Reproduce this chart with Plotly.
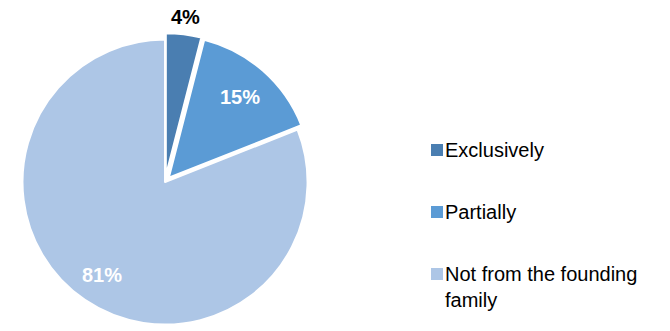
import math
import plotly.graph_objects as go

# Share of board members by relation to the founding family
categories = ["Exclusively", "Partially", "Not from the founding family"]
legend_lines = ["Exclusively", "Partially", "Not from the founding<br>family"]
values = [4, 15, 81]
value_labels = ["4%", "15%", "81%"]

colors = ["#4A7EB1", "#5B9BD5", "#ADC6E6"]
label_colors = ["#000000", "#FFFFFF", "#FFFFFF"]
label_radius = [1.12, 0.76, 0.79]  # label distance as a fraction of the radius
pulls = [0.045, 0.04, 0]
label_font = "Liberation Sans, Arial, sans-serif"

W, H = 670, 331
dom_x = [0.0239, 0.4687]
dom_y = [0.0, 0.9]

fig = go.Figure(
    go.Pie(
        labels=categories,
        values=values,
        textinfo="none",
        marker=dict(colors=colors, line=dict(color="#FFFFFF", width=2)),
        pull=pulls,
        sort=False,
        direction="clockwise",
        rotation=0,
        showlegend=False,
        hoverinfo="label+percent",
        domain=dict(x=dom_x, y=dom_y),
    )
)

# Pie geometry in pixels (same rule Plotly uses: radius shrinks by the max pull)
dom_w = (dom_x[1] - dom_x[0]) * W
dom_h = (dom_y[1] - dom_y[0]) * H
cx = (dom_x[0] + dom_x[1]) / 2 * W
cy = (dom_y[0] + dom_y[1]) / 2 * H  # from bottom
radius = min(dom_w, dom_h) / 2 / (1 + max(pulls))

# Value labels placed at each slice's mid-angle
total = sum(values)
cum = 0
for val, lab, col, f, p in zip(values, value_labels, label_colors, label_radius, pulls):
    mid = (cum + val / 2) / total * 2 * math.pi
    cum += val
    d = (f + p) * radius
    x = cx + d * math.sin(mid)
    y = cy + d * math.cos(mid)
    fig.add_annotation(
        xref="paper", yref="paper",
        x=x / W, y=y / H,
        xanchor="center", yanchor="middle",
        text=f"<b>{lab}</b>", showarrow=False,
        font=dict(family=label_font, size=20, color=col),
    )

# Legend drawn as swatches + labels on the right
legend_y_px = [150, 212, 274]  # row centres, pixels from top
for name, color, yc in zip(legend_lines, colors, legend_y_px):
    fig.add_shape(
        type="rect",
        xref="paper", yref="paper",
        x0=431 / W, x1=443 / W,
        y0=(H - yc - 6) / H, y1=(H - yc + 6) / H,
        fillcolor=color, line=dict(width=0),
    )
    fig.add_annotation(
        xref="paper", yref="paper",
        x=443 / W, y=(H - yc + 13) / H,
        xanchor="left", yanchor="top",
        text=name, showarrow=False, align="left",
        font=dict(family=label_font, size=20, color="#000000"),
    )

fig.update_layout(
    width=W, height=H,
    margin=dict(l=0, r=0, t=0, b=0),
    paper_bgcolor="#FFFFFF",
    plot_bgcolor="#FFFFFF",
)

fig.write_html("out.html")
